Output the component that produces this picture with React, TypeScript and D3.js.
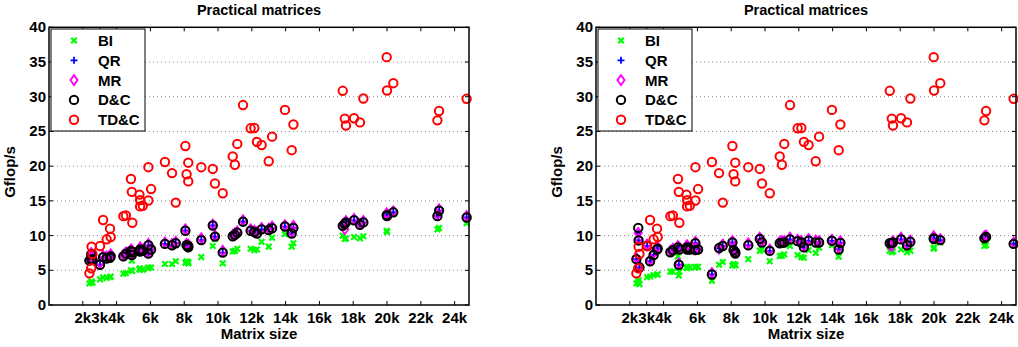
import React from 'react';
import { scaleLinear } from 'd3';

// matrix sizes (n) of the practical test matrices
const sizes = [
    2390, 2500, 2520, 2570, 3020, 3200, 3410, 3610, 3650, 4400, 4550, 4850, 4900, 4930, 5350, 5390, 5390, 5550,
    5880, 5880, 6040, 6860, 7280, 7500, 8070, 8140, 8240, 8240, 9010, 9690, 9820, 10280, 10870, 11000, 11140,
    11480, 11930, 12150, 12300, 12580, 13000, 13200, 13960, 14360, 14460, 17380, 17500, 17570, 18050, 18400,
    18600, 19980, 20000, 20370, 22980, 23080, 24710,
];

const tdcValues = [
    4.56, 5.3, 8.4, 7.35, 8.5, 12.25, 9.46, 11.0, 9.8, 12.8, 12.9, 18.15, 16.3, 11.85, 15.9, 15.1, 14.2, 14.3,
    19.85, 15.05, 16.7, 20.6, 19.0, 14.75, 22.9, 18.83, 20.5, 17.8, 19.85, 19.6, 17.5, 16.1, 21.4, 20.2, 23.2,
    28.8, 25.45, 25.5, 23.5, 23.05, 20.7, 24.25, 28.1, 22.3, 26.0, 30.85, 26.85, 25.85, 26.9, 26.3, 29.75, 35.7,
    30.9, 31.95, 26.6, 27.95, 29.7,
];

// left panel
const leftBI = [
    3.1, 3.3, 3.4, 3.2, 3.7, 4.0, 3.9, 4.0, 4.1, 4.5, 4.6, 5.0, 6.4, 4.9, 5.2, 5.1, 5.3, 5.1, 5.3, 5.4, 5.4, 5.9,
    5.9, 6.3, 6.1, 6.3, 6.2, 6.0, 6.9, 8.5, 9.5, 6.0, 7.7, 7.8, 8.1, 11.8, 8.1, 7.9, 8.0, 9.1, 8.4, 9.7, 10.2, 8.4,
    8.9, 10.0, 9.5, 9.6, 9.8, 9.6, 9.9, 10.7, 10.5, 13.1, 10.9, 11.1, 11.8,
];
const leftQR = [
    6.4, 7.3, 6.5, 6.6, 5.8, 6.9, 6.7, 6.8, 7.0, 7.0, 7.4, 7.8, 7.2, 7.6, 7.8, 8.0, 7.7, 7.8, 8.6, 7.4, 8.0, 8.8,
    8.6, 8.9, 10.7, 8.6, 8.3, 8.5, 9.35, 11.45, 9.85, 7.55, 9.9, 10.1, 10.4, 12.0, 10.7, 10.5, 10.3, 10.9, 10.8,
    11.05, 11.3, 10.3, 11.1, 11.4, 11.7, 11.9, 12.2, 11.55, 11.9, 12.95, 12.8, 13.35, 12.8, 13.6, 12.6,
];
const leftMR = [
    6.6, 7.5, 6.8, 6.9, 6.1, 7.1, 7.0, 7.1, 7.3, 7.2, 7.6, 8.0, 7.4, 7.8, 8.0, 8.3, 7.9, 8.0, 8.8, 7.6, 8.2, 9.0,
    8.8, 9.1, 10.9, 8.8, 8.5, 8.7, 9.6, 11.6, 10.0, 7.8, 10.1, 10.3, 10.6, 12.2, 10.9, 10.7, 10.5, 11.1, 11.0,
    11.3, 11.5, 10.6, 11.4, 11.6, 10.9, 12.1, 12.4, 11.7, 12.1, 13.2, 13.0, 13.5, 13.0, 13.8, 12.8,
];
const leftDC = [
    6.4, 7.3, 6.5, 6.6, 5.8, 6.9, 6.7, 6.8, 7.0, 7.0, 7.4, 7.8, 7.2, 7.6, 7.8, 8.0, 7.7, 7.8, 8.6, 7.4, 8.0, 8.8,
    8.6, 8.9, 10.7, 8.6, 8.3, 8.5, 9.35, 11.45, 9.85, 7.55, 9.9, 10.1, 10.4, 12.0, 10.7, 10.5, 10.3, 10.9, 10.8,
    11.05, 11.3, 10.3, 11.1, 11.4, 11.7, 11.9, 12.2, 11.55, 11.9, 12.95, 12.8, 13.35, 12.8, 13.6, 12.6,
];

// right panel
const rightBI = [
    3.1, 3.3, 3.6, 3.0, 4.0, 4.1, 4.3, 4.4, 4.4, 4.8, 4.8, 7.0, 4.25, 4.8, 5.4, 5.5, 5.3, 5.4, 5.5, 5.4, 5.5, 3.5,
    5.8, 6.2, 5.7, 5.9, 5.7, 5.8, 6.6, 7.8, 8.0, 6.3, 7.05, 7.1, 7.3, 8.5, 7.2, 6.9, 6.8, 7.9, 7.5, 8.25, 8.6,
    6.95, 8.0, 7.8, 7.6, 7.7, 8.0, 7.6, 7.8, 8.1, 8.3, 9.0, 8.5, 8.6, 8.6,
];
const rightQR = [
    6.6, 10.3, 9.3, 5.4, 8.5, 6.3, 7.2, 8.0, 8.1, 7.6, 7.9, 8.3, 5.8, 8.0, 8.2, 8.0, 8.3, 8.0, 8.9, 7.9, 8.0, 4.4,
    8.2, 8.5, 9.0, 7.9, 7.4, 7.6, 8.6, 9.5, 9.0, 7.8, 8.9, 8.95, 9.0, 9.45, 9.2, 9.0, 8.3, 9.25, 9.0, 9.0, 9.25,
    8.0, 8.95, 8.9, 8.95, 9.0, 9.45, 8.6, 9.1, 9.6, 9.5, 9.35, 9.6, 9.8, 8.8,
];
const rightMR = [
    6.8, 10.4, 9.5, 5.6, 8.7, 6.5, 7.5, 8.2, 8.4, 7.8, 8.1, 8.5, 6.0, 8.2, 8.5, 8.2, 8.6, 8.2, 9.1, 8.1, 8.2, 4.6,
    8.1, 8.7, 9.2, 8.1, 7.6, 7.8, 8.9, 9.7, 9.2, 8.0, 9.1, 9.2, 9.2, 9.7, 9.4, 9.2, 8.5, 9.5, 9.3, 9.2, 9.4, 8.3,
    9.2, 8.7, 8.5, 9.2, 9.7, 8.8, 9.3, 9.9, 9.7, 9.5, 9.9, 10.0, 9.0,
];
const rightDC = [
    6.6, 11.1, 9.3, 5.4, 8.5, 6.3, 7.2, 8.0, 8.1, 7.6, 7.9, 8.3, 5.8, 8.0, 8.2, 8.0, 8.3, 8.0, 8.9, 7.9, 8.0, 4.4,
    8.2, 8.5, 9.0, 7.9, 7.4, 7.6, 8.6, 9.5, 9.0, 7.8, 8.9, 8.95, 9.0, 9.45, 9.2, 9.0, 8.3, 9.25, 9.0, 9.0, 9.25,
    8.0, 8.95, 8.9, 8.95, 9.0, 9.45, 8.6, 9.1, 9.6, 9.5, 9.35, 9.6, 9.8, 8.8,
];

const xTickValues = [2000, 3000, 4000, 6000, 8000, 10000, 12000, 14000, 16000, 18000, 20000, 22000, 24000];
const xTickLabels = ['2k', '3k', '4k', '6k', '8k', '10k', '12k', '14k', '16k', '18k', '20k', '22k', '24k'];
const yTickValues = [0, 5, 10, 15, 20, 25, 30, 35, 40];
const legendNames = ['BI', 'QR', 'MR', 'D&C', 'TD&C'];

const FONT = 'Liberation Sans, Arial, Helvetica, sans-serif';

const Marker = ({ kind, x, y }: { kind: string; x: number; y: number }) => {
    if (kind === 'BI') {
        const s = 2.8;
        return (
            <path
                d={`M${x - s},${y - s}L${x + s},${y + s}M${x - s},${y + s}L${x + s},${y - s}`}
                stroke="#00ff00"
                strokeWidth={2.2}
            />
        );
    }
    if (kind === 'QR') {
        const s = 3.5;
        return <path d={`M${x - s},${y}L${x + s},${y}M${x},${y - s}L${x},${y + s}`} stroke="#0000ff" strokeWidth={1.8} />;
    }
    if (kind === 'MR') {
        return (
            <path
                d={`M${x},${y - 5}L${x + 3.6},${y}L${x},${y + 5}L${x - 3.6},${y}Z`}
                fill="none"
                stroke="#ff00ff"
                strokeWidth={1.8}
            />
        );
    }
    const color = kind === 'D&C' ? '#000000' : '#ff0000';
    return <circle cx={x} cy={y} r={4.2} fill="none" stroke={color} strokeWidth={2} />;
};

type PanelProps = { left: number; bi: number[]; qr: number[]; mr: number[]; dc: number[]; tdc: number[] };

const Panel = ({ left, bi, qr, mr, dc, tdc }: PanelProps) => {
    const plotW = 420;
    const top = 27.3;
    const bottom = 305;
    const x = scaleLinear().domain([0, 24850]).range([left, left + plotW]);
    const y = scaleLinear().domain([0, 40]).range([bottom, top]);
    const series: [string, number[]][] = [
        ['BI', bi],
        ['QR', qr],
        ['MR', mr],
        ['D&C', dc],
        ['TD&C', tdc],
    ];
    const cx = left + plotW / 2;
    const legX = left + 2;
    const legY = 29;

    return (
        <g fontFamily={FONT} fontWeight="bold" fontSize={15}>
            <text x={cx} y={15} textAnchor="middle" fontSize={14.5}>
                Practical matrices
            </text>
            {/* grid */}
            {yTickValues.slice(1, -1).map((v) => (
                <line
                    key={v}
                    x1={left}
                    x2={left + plotW}
                    y1={y(v)}
                    y2={y(v)}
                    stroke="#888"
                    strokeWidth={1}
                    strokeDasharray="1,3"
                />
            ))}
            {/* ticks */}
            {xTickValues.map((v, i) => (
                <g key={v}>
                    <line x1={x(v)} x2={x(v)} y1={bottom} y2={bottom - 4} stroke="#000" />
                    <line x1={x(v)} x2={x(v)} y1={top} y2={top + 4} stroke="#000" />
                    <text x={x(v)} y={323} textAnchor="middle">
                        {xTickLabels[i]}
                    </text>
                </g>
            ))}
            {yTickValues.map((v) => (
                <g key={v}>
                    <line x1={left} x2={left + 4} y1={y(v)} y2={y(v)} stroke="#000" />
                    <line x1={left + plotW} x2={left + plotW - 4} y1={y(v)} y2={y(v)} stroke="#000" />
                    <text x={left - 3} y={y(v) + 5} textAnchor="end">
                        {v}
                    </text>
                </g>
            ))}
            <text x={cx} y={339} textAnchor="middle">
                Matrix size
            </text>
            <text transform={`translate(${left - 34},${172}) rotate(-90)`} textAnchor="middle">
                Gflop/s
            </text>
            {/* data */}
            {series.map(([name, vals]) =>
                vals.map((v, i) => <Marker key={name + i} kind={name} x={x(sizes[i])} y={y(v)} />)
            )}
            <rect x={left} y={top} width={plotW} height={bottom - top} fill="none" stroke="#000" strokeWidth={1.5} />
            {/* legend */}
            <rect x={legX} y={legY} width={94} height={102} fill="#fff" stroke="#000" strokeWidth={1} />
            {legendNames.map((name, i) => (
                <g key={name}>
                    <Marker kind={name} x={legX + 23} y={legY + 11.5 + i * 19.8} />
                    <text x={legX + 47} y={legY + 17 + i * 19.8}>
                        {name}
                    </text>
                </g>
            ))}
        </g>
    );
};

export default function App() {
    return (
        <svg width={1018} height={347} style={{ position: 'absolute', left: 0, top: 0, background: '#fff' }}>
            <rect width={1018} height={347} fill="#fff" />
            <Panel left={49} bi={leftBI} qr={leftQR} mr={leftMR} dc={leftDC} tdc={tdcValues} />
            <Panel left={596} bi={rightBI} qr={rightQR} mr={rightMR} dc={rightDC} tdc={tdcValues} />
        </svg>
    );
}
